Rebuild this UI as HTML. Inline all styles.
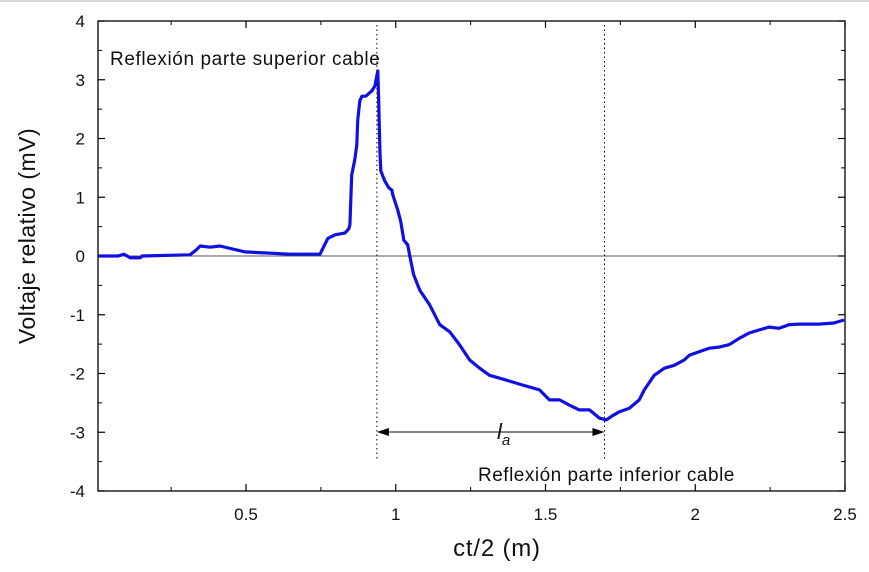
<!DOCTYPE html>
<html><head><meta charset="utf-8"><style>
body{margin:0;background:#fff;}
svg{display:block;font-family:"Liberation Sans",Arial,sans-serif;}
</style></head><body>
<svg width="869" height="572" viewBox="0 0 869 572">
<rect x="0" y="0" width="869" height="2" fill="#d8d8d8"/>
<g id="axes"></g>
<g id="plot"></g>
<text x="110" y="65" font-size="19" letter-spacing="0.6" fill="#111">Reflexión parte superior cable</text>
<text x="478" y="481" font-size="19" letter-spacing="0.5" fill="#111">Reflexión parte inferior cable</text>
<text x="497" y="439" font-size="22" font-style="italic" fill="#111">l<tspan font-size="15" dy="6">a</tspan></text>
<text x="497" y="556" font-size="24" letter-spacing="0.8" text-anchor="middle" fill="#111">ct/2 (m)</text>
<text transform="translate(35,236) rotate(-90)" font-size="23" letter-spacing="0.5" text-anchor="middle" fill="#111">Voltaje relativo (mV)</text>
</svg>
<script>
const xs=[0.007,0.073,0.093,0.113,0.147,0.153,0.313,0.333,0.347,0.38,0.413,0.497,0.647,0.747,0.773,0.797,0.83,0.843,0.847,0.85,0.853,0.863,0.87,0.873,0.88,0.887,0.9,0.92,0.93,0.94,0.943,0.947,0.95,0.963,0.977,0.987,0.99,1.007,1.017,1.027,1.04,1.047,1.053,1.06,1.08,1.113,1.147,1.18,1.213,1.247,1.28,1.313,1.347,1.38,1.413,1.48,1.513,1.547,1.58,1.613,1.647,1.68,1.703,1.723,1.747,1.78,1.813,1.83,1.863,1.897,1.93,1.963,1.98,2.013,2.047,2.08,2.113,2.147,2.18,2.213,2.247,2.28,2.313,2.347,2.413,2.463,2.497];
const ys=[0,0,0.03,-0.03,-0.03,0,0.02,0.10,0.17,0.15,0.17,0.07,0.03,0.03,0.30,0.36,0.39,0.46,0.53,0.95,1.38,1.63,1.89,2.31,2.64,2.72,2.72,2.81,2.89,3.15,2.64,1.79,1.45,1.28,1.16,1.12,1.04,0.78,0.58,0.27,0.19,0,-0.15,-0.32,-0.58,-0.83,-1.17,-1.29,-1.51,-1.77,-1.91,-2.03,-2.08,-2.13,-2.18,-2.28,-2.45,-2.45,-2.54,-2.62,-2.62,-2.76,-2.79,-2.72,-2.65,-2.59,-2.45,-2.28,-2.03,-1.91,-1.86,-1.77,-1.69,-1.63,-1.57,-1.55,-1.51,-1.40,-1.31,-1.26,-1.21,-1.23,-1.17,-1.16,-1.16,-1.14,-1.09];
const xTicks=[0.5,1,1.5,2,2.5];
const xTickLabels=["0.5","1","1.5","2","2.5"];
const yTicks=[-4,-3,-2,-1,0,1,2,3,4];
const yTickLabels=["-4","-3","-2","-1","0","1","2","3","4"];
const markers=[0.937,1.697];
const X0=98,X1=845,Y0=21,Y1=491;
const sx=v=>96.25+(v)*299.5;
const sy=v=>256-v*58.75;
const NS="http://www.w3.org/2000/svg";
function mk(tag,attrs,parent){const e=document.createElementNS(NS,tag);for(const k in attrs)e.setAttribute(k,attrs[k]);parent.appendChild(e);return e;}
const ax=document.getElementById('axes'),pl=document.getElementById('plot');
let fr=mk('rect',{x:X0,y:Y0,width:X1-X0,height:Y1-Y0,fill:'none',stroke:'#000','stroke-width':1.3},ax);


let zl=mk('line',{x1:X0,x2:X1,y1:sy(0),y2:sy(0),stroke:'#555','stroke-width':1},ax);


xTicks.forEach((v,i)=>{
 const x=sx(v);
 [[Y1,Y1-7],[Y0,Y0+7]].forEach(p=>{mk('line',{x1:x,x2:x,y1:p[0],y2:p[1],stroke:'#000','stroke-width':1.2},ax);});
 const mx=sx(v-0.25);
 if(mx>X0+2){[[Y1,Y1-4],[Y0,Y0+4]].forEach(p=>{mk('line',{x1:mx,x2:mx,y1:p[0],y2:p[1],stroke:'#000','stroke-width':1},ax);});}
 const t=mk('text',{x:x,y:Y1+29,'font-size':17,'text-anchor':'middle',fill:'#111'},ax);
 t.textContent=xTickLabels[i];
 
 
});
yTicks.forEach((v,i)=>{
 const y=sy(v);
 mk('line',{x1:X0,x2:X0+7,y1:y,y2:y,stroke:'#000','stroke-width':1.2},ax);
 mk('line',{x1:X1,x2:X1-7,y1:y,y2:y,stroke:'#000','stroke-width':1.2},ax);
 if(v<4){const m=sy(v+0.5);mk('line',{x1:X0,x2:X0+4,y1:m,y2:m,stroke:'#000'},ax);mk('line',{x1:X1,x2:X1-4,y1:m,y2:m,stroke:'#000'},ax);}
 const t=mk('text',{x:85,y:y+6,'font-size':17,'text-anchor':'end',fill:'#111'},ax);
 t.textContent=yTickLabels[i];
 
 
});
markers.forEach(v=>{
 const l=mk('line',{x1:sx(v),x2:sx(v),y1:25,y2:460,stroke:'#000','stroke-width':1,'stroke-dasharray':'1.5,3'},pl);
 
 
});
const defs=mk('defs',{},pl);
const m=mk('marker',{id:'ah',markerWidth:12,markerHeight:8,refX:11,refY:4,orient:'auto-start-reverse',markerUnits:'userSpaceOnUse'},defs);
mk('path',{d:'M0,0 L12,4 L0,8 Z',fill:'#000'},m);
const ar=mk('line',{x1:sx(markers[0])+1,x2:sx(markers[1])-1,y1:432,y2:432,stroke:'#000','stroke-width':1,'marker-start':'url(#ah)','marker-end':'url(#ah)'},pl);


const d=xs.map((v,i)=>(i?'L':'M')+sx(v).toFixed(1)+','+sy(ys[i]).toFixed(1)).join(' ');
const p=mk('path',{d:d,fill:'none',stroke:'#1010e0','stroke-width':3.2,'stroke-linejoin':'round'},pl);


</script>
</body></html>
